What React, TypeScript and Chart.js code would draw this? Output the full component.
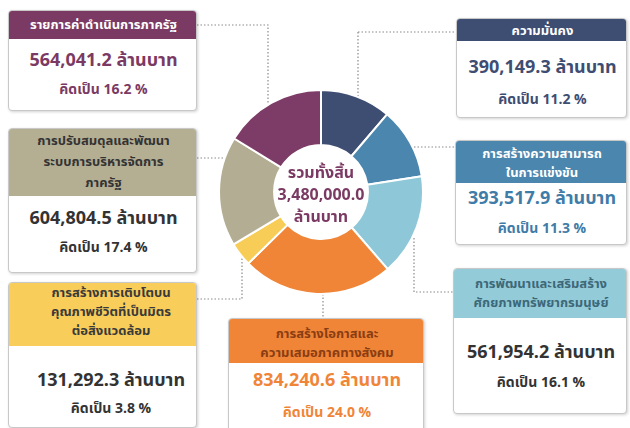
import React, { useEffect, useRef } from "react";
import { Chart, registerables } from "chart.js";

Chart.register(...registerables);

// ---- data ----
const categories = [
  "ความมั่นคง",
  "การสร้างความสามารถในการแข่งขัน",
  "การพัฒนาและเสริมสร้างศักยภาพทรัพยากรมนุษย์",
  "การสร้างโอกาสและความเสมอภาคทางสังคม",
  "การสร้างการเติบโตบนคุณภาพชีวิตที่เป็นมิตรต่อสิ่งแวดล้อม",
  "การปรับสมดุลและพัฒนาระบบการบริหารจัดการภาครัฐ",
  "รายการค่าดำเนินการภาครัฐ",
];
const values = [390149.3, 393517.9, 561954.2, 834240.6, 131292.3, 604804.5, 564041.2];
const percents = [11.2, 11.3, 16.1, 24.0, 3.8, 17.4, 16.2];
const headerLines = [
  ["ความมั่นคง"],
  ["การสร้างความสามารถ", "ในการแข่งขัน"],
  ["การพัฒนาและเสริมสร้าง", "ศักยภาพทรัพยากรมนุษย์"],
  ["การสร้างโอกาสและ", "ความเสมอภาคทางสังคม"],
  ["การสร้างการเติบโตบน", "คุณภาพชีวิตที่เป็นมิตร", "ต่อสิ่งแวดล้อม"],
  ["การปรับสมดุลและพัฒนา", "ระบบการบริหารจัดการ", "ภาครัฐ"],
  ["รายการค่าดำเนินการภาครัฐ"],
];
const totalLabel = "รวมทั้งสิ้น";
const totalValue = 3480000.0;
const unit = "ล้านบาท";
const pctPrefix = "คิดเป็น";

// ---- styles ----
const sliceColors = ["#3e4d72", "#4a86ae", "#8ec8d8", "#f08538", "#f8cd57", "#b3ae93", "#7d3c67"];
const FONT = "'Noto Sans Thai','Noto Sans','DejaVu Sans','Loma','Garuda',sans-serif";

type CardLayout = {
  left: number; top: number; width: number; height: number; headerH: number;
  headerBg: string; headerColor: string; bodyColor: string;
  headerY: number[]; valueY: number; pctY: number; cx?: number;
};
const cardLayouts: CardLayout[] = [
  { left: 456, top: 18, width: 171, height: 100, headerH: 22, headerBg: "#3e4d72", headerColor: "#ffffff", bodyColor: "#3e4d72", headerY: [12], valueY: 49, pctY: 81 },
  { left: 455, top: 140, width: 172, height: 105, headerH: 42, headerBg: "#4a86ae", headerColor: "#ffffff", bodyColor: "#3f7ca7", headerY: [13, 32], valueY: 58, pctY: 88 },
  { left: 453, top: 268, width: 174, height: 146, headerH: 49, headerBg: "#93cbd9", headerColor: "#3d6878", bodyColor: "#333333", headerY: [15, 34], valueY: 84, pctY: 114 },
  { left: 228, top: 318, width: 196, height: 116, headerH: 44, headerBg: "#f08538", headerColor: "#8a3d12", bodyColor: "#f08538", headerY: [15, 34], valueY: 62, pctY: 94 },
  { left: 8, top: 282, width: 189, height: 146, headerH: 63, headerBg: "#f8cd5a", headerColor: "#3a3a3a", bodyColor: "#333333", headerY: [10, 29, 48], valueY: 98, pctY: 126, cx: 102 },
  { left: 8, top: 128, width: 189, height: 145, headerH: 67, headerBg: "#b4ae93", headerColor: "#333333", bodyColor: "#333333", headerY: [12, 33, 54], valueY: 90, pctY: 119 },
  { left: 8, top: 10, width: 189, height: 101, headerH: 28, headerBg: "#7b3a63", headerColor: "#ffffff", bodyColor: "#7b3a63", headerY: [14], valueY: 50, pctY: 79 },
];

const connectors: string[] = [
  "M358,32 L358,97 M358,32 L456,32",
  "M414,147 L455,147",
  "M414,238 L414,292 L453,292",
  "M323,294 L323,318",
  "M197,299 L242,299 L242,257",
  "M197,158 L225,158",
  "M197,25 L268,25 L268,104",
];

const fmt = (v: number) => v.toLocaleString("en-US", { minimumFractionDigits: 1, maximumFractionDigits: 1 });

export default function App() {
  const ref = useRef<HTMLCanvasElement | null>(null);
  useEffect(() => {
    if (!ref.current) return;
    const chart = new Chart(ref.current, {
      type: "doughnut",
      data: {
        labels: categories,
        datasets: [{
          data: values,
          backgroundColor: sliceColors,
          borderColor: "#ffffff",
          borderWidth: 2,
        }],
      },
      options: {
        responsive: false,
        animation: false,
        cutout: "46%",
        layout: { padding: 2 },
        plugins: { legend: { display: false }, tooltip: { enabled: false } },
      },
    });
    return () => chart.destroy();
  }, []);

  return (
    <div style={{ position: "fixed", left: 0, top: 0, width: 630, height: 428, background: "#fff", overflow: "hidden", fontFamily: FONT }}>
      <svg width={630} height={428} style={{ position: "absolute", left: 0, top: 0 }}>
        {connectors.map((d, i) => (
          <path key={i} d={d} fill="none" stroke="#8a8a8a" strokeWidth={1.2} strokeDasharray="1.5 2" />
        ))}
      </svg>
      <canvas ref={ref} width={210} height={210} style={{ position: "absolute", left: 216, top: 87, width: 210, height: 210 }} />
      {[totalLabel, fmt(totalValue), unit].map((t, i) => (
        <div key={i} style={{ position: "absolute", left: 261, width: 120, top: [173, 195, 217][i], transform: "translateY(-50%)", textAlign: "center", color: "#7b3a63", fontWeight: 700, fontSize: 16, lineHeight: "18px", whiteSpace: "nowrap" }}>{t}</div>
      ))}
      {cardLayouts.map((c, i) => {
        const cx = c.cx ?? c.width / 2;
        return (
          <div key={i} style={{ position: "absolute", left: c.left, top: c.top, width: c.width, height: c.height, border: "1px solid #c8c8c8", borderRadius: 4, boxSizing: "border-box", overflow: "hidden", background: "#fff", boxShadow: "1px 1px 3px rgba(0,0,0,0.18)" }}>
            <div style={{ position: "absolute", left: 0, top: 0, width: "100%", height: c.headerH, background: c.headerBg }} />
            {headerLines[i].map((t, j) => (
              <div key={j} style={{ position: "absolute", left: cx - 120, width: 240, top: c.headerY[j], transform: "translateY(-50%)", textAlign: "center", color: c.headerColor, fontWeight: 700, fontSize: 13, lineHeight: "16px", whiteSpace: "nowrap" }}>{t}</div>
            ))}
            <div style={{ position: "absolute", left: cx - 120, width: 240, top: c.valueY, transform: "translateY(-50%)", textAlign: "center", color: c.bodyColor, fontWeight: 700, fontSize: 18, lineHeight: "22px", whiteSpace: "nowrap" }}>{fmt(values[i]) + " " + unit}</div>
            <div style={{ position: "absolute", left: cx - 120, width: 240, top: c.pctY, transform: "translateY(-50%)", textAlign: "center", color: c.bodyColor, fontWeight: 700, fontSize: 14, lineHeight: "18px", whiteSpace: "nowrap" }}>{pctPrefix + " " + percents[i].toFixed(1) + " %"}</div>
          </div>
        );
      })}
    </div>
  );
}
